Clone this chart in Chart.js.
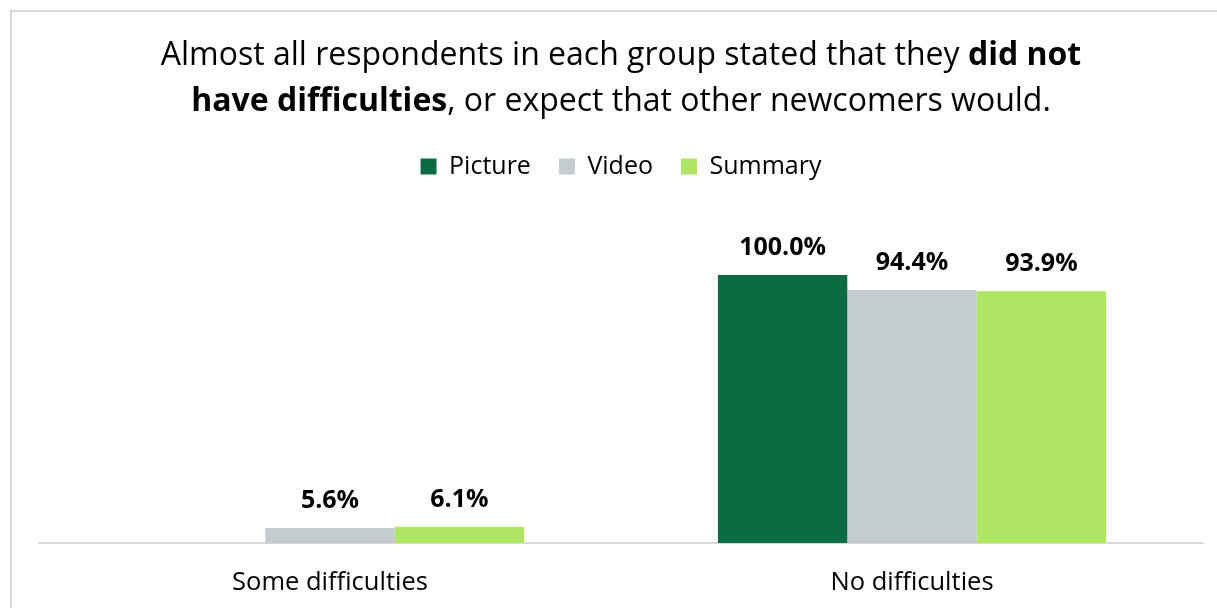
<!DOCTYPE html>
<html>
<head>
<meta charset="utf-8">
<script src="https://cdn.jsdelivr.net/npm/chart.js@4.4.1/dist/chart.umd.min.js"></script>
<style>
  html, body { margin: 0; padding: 0; background: #fff; overflow: hidden; }
  #frame { position: absolute; left: 10px; top: 10px; width: 1300px; height: 700px; border: 2px solid #d9d9d9; }
  #mychart { position: absolute; left: 0; top: 0; }
</style>
</head>
<body>
<div id="frame"></div>
<canvas id="mychart" width="1217" height="608"></canvas>
<script>
var categories = ['Some difficulties', 'No difficulties'];
var picture = [null, 100.0];
var video = [5.6, 94.4];
var summary = [6.1, 93.9];
var seriesNames = ['Picture', 'Video', 'Summary'];
var seriesColors = ['#0d6b43', '#c5cccf', '#aee563'];

// title pieces, bold flag per run
var titleLines = [
    [['Almost all respondents in each group stated that they ', false], ['did not', true]],
    [['have difficulties', true], [', or expect that other newcomers would.', false]]
];

var FONT = 'Open Sans';

Chart.defaults.font.family = FONT;
Chart.defaults.color = '#000';

// push the plot area down below the legend
var legendGap = {
    id: 'legendGap',
    beforeInit: function(chart) {
        var fit = chart.legend.fit;
        chart.legend.fit = function() {
            fit.bind(chart.legend)();
            this.height += 86;
        };
    }
};

var titleText = {
    id: 'titleText',
    afterDraw: function(chart) {
        var c = chart.ctx;
        var cx = (chart.chartArea.left + chart.chartArea.right) / 2;
        var baselines = [65, 111];
        c.save();
        c.fillStyle = '#000';
        c.textBaseline = 'alphabetic';
        c.textAlign = 'left';
        titleLines.forEach(function(line, i) {
            var total = 0;
            line.forEach(function(run) {
                c.font = (run[1] ? 'bold ' : '') + '32px ' + FONT;
                total += c.measureText(run[0]).width;
            });
            var x = cx - total / 2;
            line.forEach(function(run) {
                c.font = (run[1] ? 'bold ' : '') + '32px ' + FONT;
                c.fillText(run[0], x, baselines[i]);
                x += c.measureText(run[0]).width;
            });
        });
        c.restore();
    }
};

var barValues = {
    id: 'barValues',
    afterDatasetsDraw: function(chart) {
        var c = chart.ctx;
        c.save();
        c.font = 'bold 25px ' + FONT;
        c.fillStyle = '#000';
        c.textAlign = 'center';
        c.textBaseline = 'alphabetic';
        chart.data.datasets.forEach(function(ds, i) {
            chart.getDatasetMeta(i).data.forEach(function(bar, j) {
                var v = ds.data[j];
                if (v === null) return;
                c.fillText(v.toFixed(1) + '%', bar.x, bar.y - 20);
            });
        });
        c.restore();
    }
};

var ctx = document.getElementById('mychart').getContext('2d');
var myChart = new Chart(ctx, {
    type: 'bar',
    data: {
        labels: categories,
        datasets: [
            { label: seriesNames[0], data: picture, backgroundColor: seriesColors[0] },
            { label: seriesNames[1], data: video, backgroundColor: seriesColors[1] },
            { label: seriesNames[2], data: summary, backgroundColor: seriesColors[2] }
        ]
    },
    options: {
        responsive: false,
        animation: false,
        layout: { padding: { top: 126, left: 39, right: 14, bottom: 0 } },
        datasets: {
            bar: { barPercentage: 1, categoryPercentage: 0.667 }
        },
        plugins: {
            legend: {
                position: 'top',
                labels: { boxWidth: 16, boxHeight: 16, padding: 28, font: { size: 25 } }
            },
            tooltip: { enabled: false }
        },
        scales: {
            x: {
                grid: { display: false, drawTicks: false },
                border: { color: '#d9d9d9', width: 2 },
                ticks: { padding: 24, font: { size: 25.5 } },
                afterFit: function(scale) { scale.height = 65; }
            },
            y: {
                display: false,
                min: 0,
                max: 100
            }
        }
    },
    plugins: [legendGap, titleText, barValues]
});
</script>
</body>
</html>
